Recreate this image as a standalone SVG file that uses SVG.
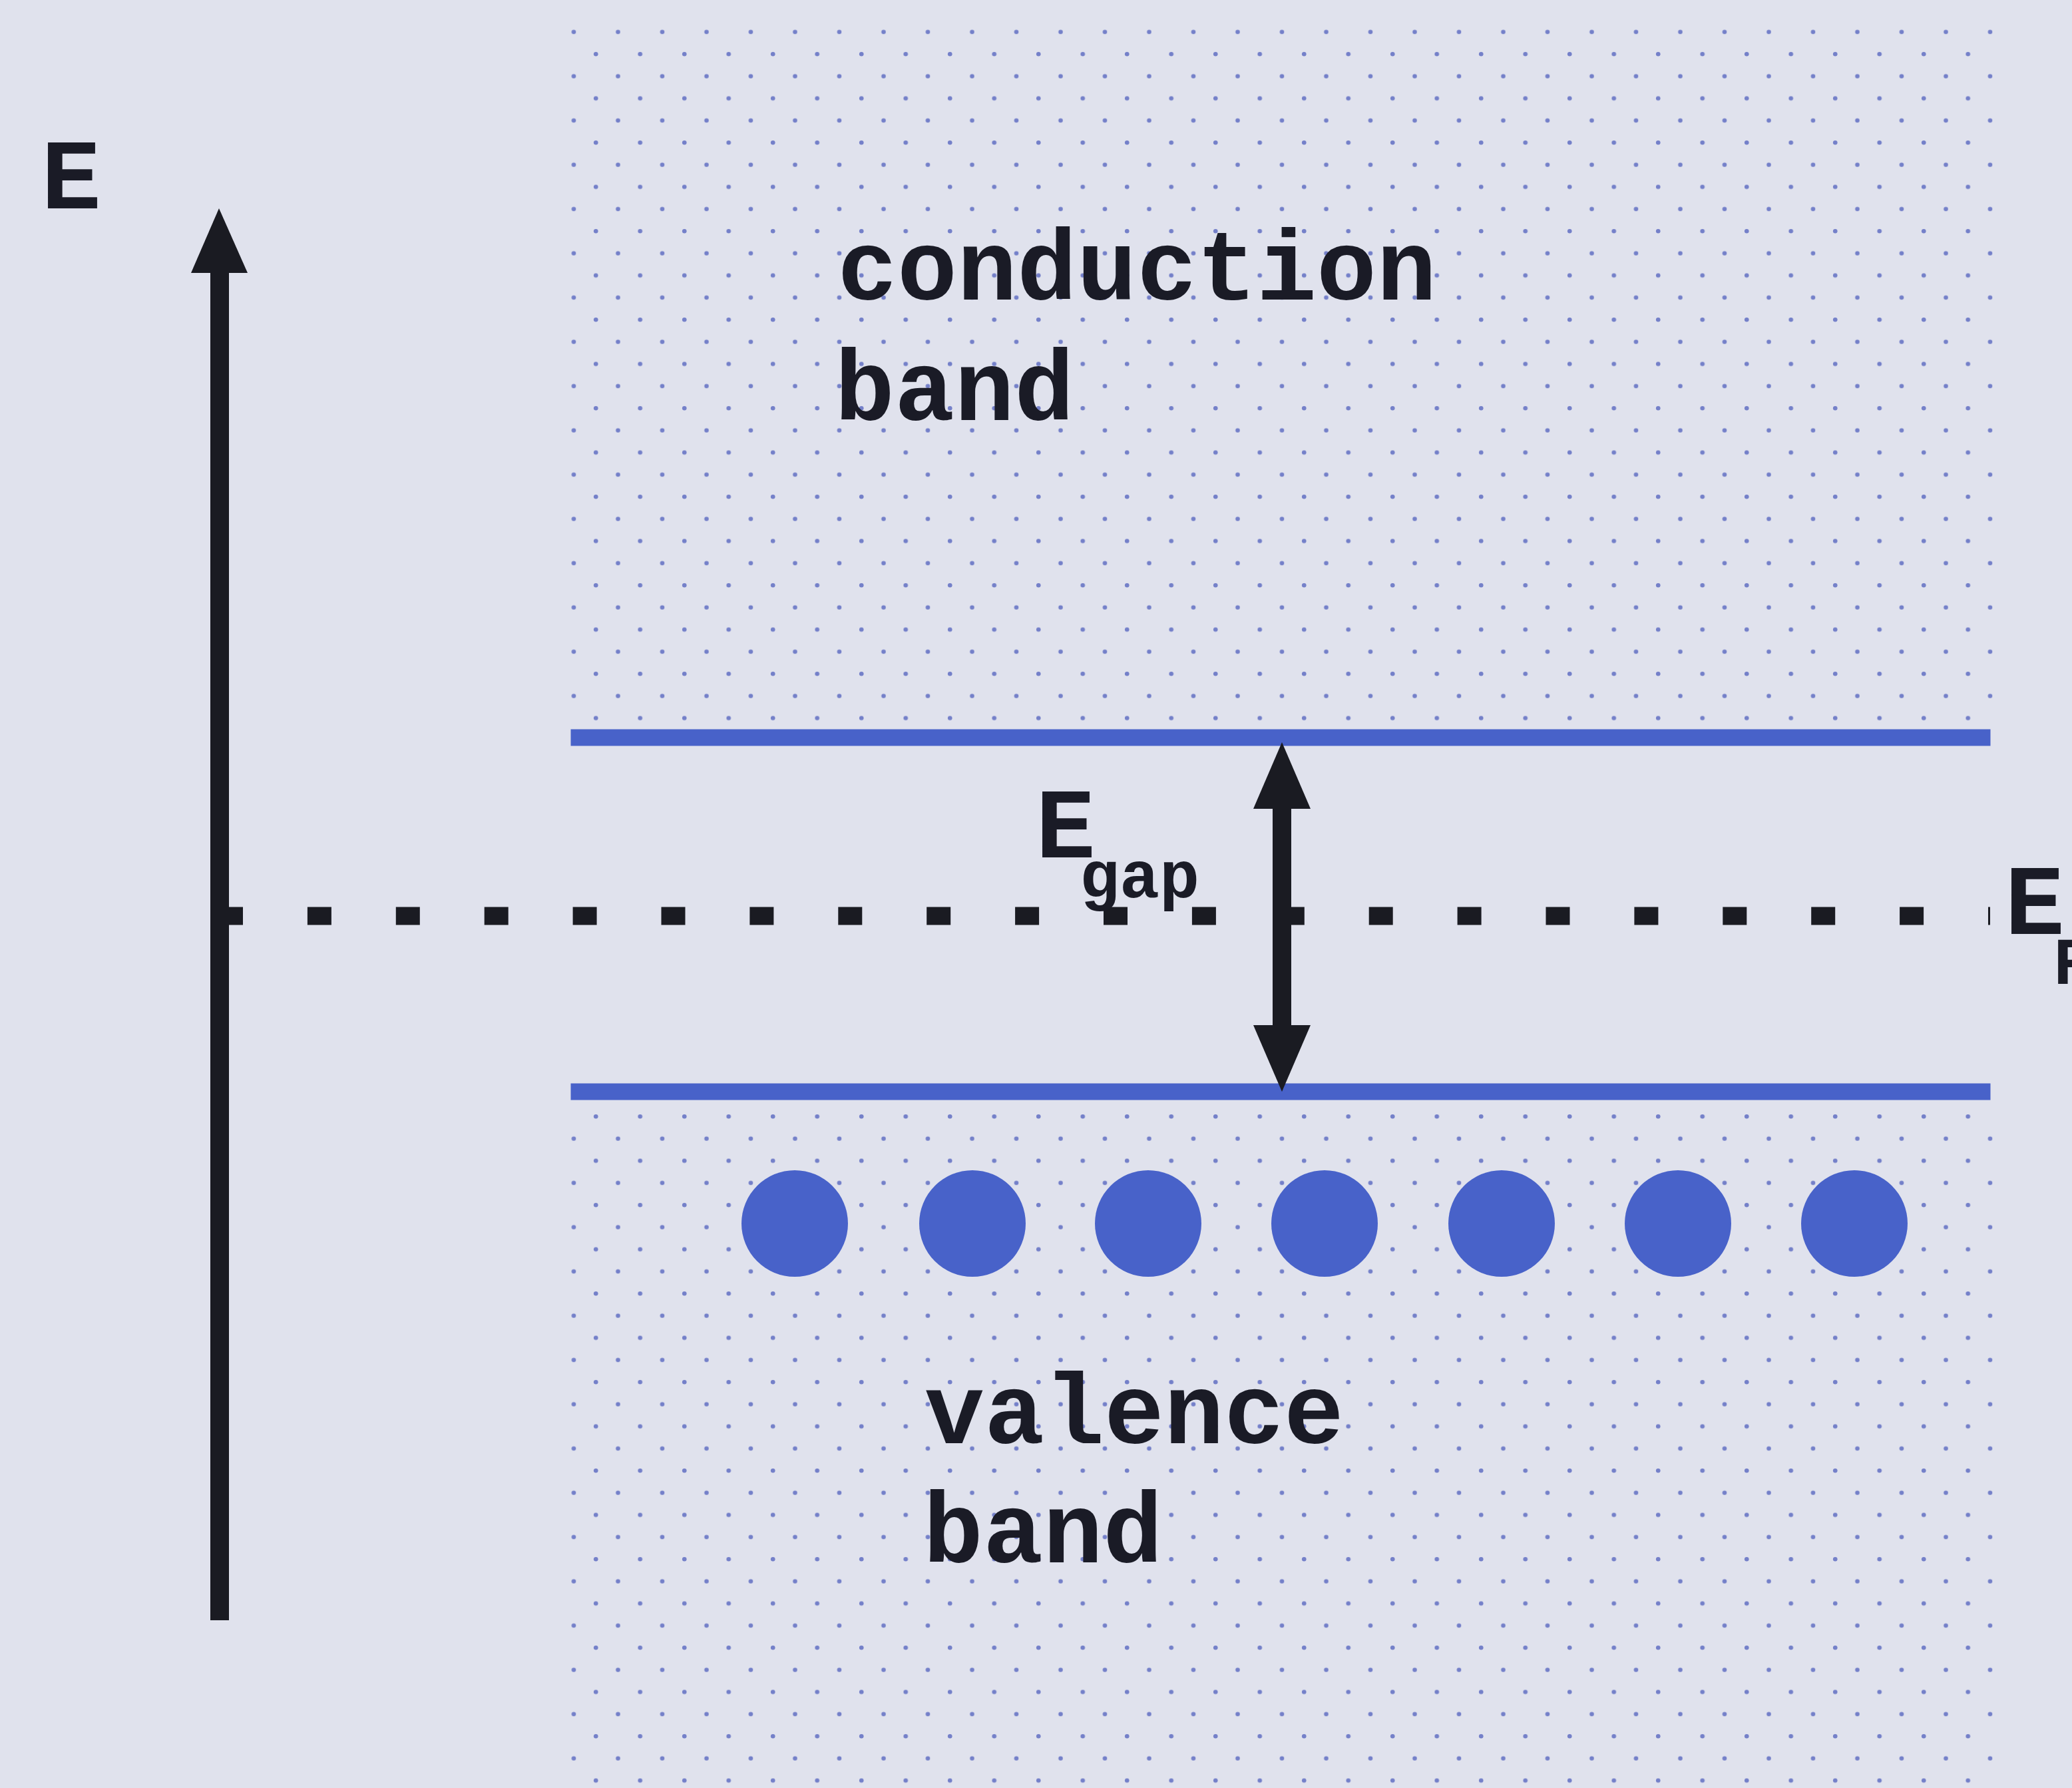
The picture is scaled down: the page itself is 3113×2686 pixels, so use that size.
<svg xmlns="http://www.w3.org/2000/svg" width="3113" height="2686" viewBox="0 0 3113 2686">
  <style>
    .lbl { font-family: "Liberation Mono", "Courier New", monospace; font-weight: bold; fill: #1a1b26; }
    .big { font-size: 150px; }
    .sub { font-size: 100px; }
    .edge { stroke: #4862c9; stroke-width: 25; stroke-linecap: square; fill: none; }
    .electron { fill: #4862c9; }
    .ink { fill: #1a1b22; }
  </style>
  <defs>
    <pattern id="dots" patternUnits="userSpaceOnUse" x="845.375" y="31.375" width="66.5" height="66.5">
      <circle cx="16.625" cy="16.625" r="3.3" fill="#7480c9"/>
      <circle cx="49.875" cy="49.875" r="3.3" fill="#7480c9"/>
    </pattern>
  </defs>
  <rect x="0" y="0" width="3113" height="2686" fill="#e0e2ed"/>

  <g id="conduction-band">
    <rect x="855" y="30" width="2141" height="1065" fill="url(#dots)"/>
    <line class="edge" x1="870" y1="1108" x2="2978" y2="1108"/>
    <text class="lbl big" x="1258" y="450">conduction</text>
    <text class="lbl big" x="1254" y="631">band</text>
  </g>

  <g id="valence-band">
    <rect x="855" y="1655" width="2141" height="1031" fill="url(#dots)"/>
    <line class="edge" x1="870" y1="1640" x2="2978" y2="1640"/>
    <circle class="electron" cx="1194" cy="1838" r="80"/>
    <circle class="electron" cx="1461" cy="1838" r="80"/>
    <circle class="electron" cx="1725" cy="1838" r="80"/>
    <circle class="electron" cx="1990" cy="1838" r="80"/>
    <circle class="electron" cx="2256" cy="1838" r="80"/>
    <circle class="electron" cx="2521" cy="1838" r="80"/>
    <circle class="electron" cx="2786" cy="1838" r="80"/>
    <text class="lbl big" x="1389" y="2168">valence</text>
    <text class="lbl big" x="1387" y="2347">band</text>
  </g>

  <g id="fermi-level">
    <line x1="329" y1="1376" x2="2990" y2="1376" stroke="#1a1b22" stroke-width="27" stroke-dasharray="36 96.9"/>
    <text class="lbl big" x="3012" y="1403">E</text>
    <text class="lbl sub" x="3084" y="1478">F</text>
  </g>

  <g id="connectors">
    <g id="energy-axis">
      <rect class="ink" x="316" y="400" width="28" height="2034"/>
      <polygon class="ink" points="329,313 287,410 372,410"/>
    </g>
    <g id="gap-arrow">
      <rect class="ink" x="1912" y="1205" width="28" height="345"/>
      <polygon class="ink" points="1926,1115 1883,1215 1969,1215"/>
      <polygon class="ink" points="1926,1640 1883,1540 1969,1540"/>
    </g>
  </g>

  <g id="axis-label">
    <text class="lbl big" x="62" y="313">E</text>
  </g>
  <g id="gap-label">
    <text class="lbl big" x="1556" y="1288">E</text>
    <text class="lbl sub" x="1622" y="1348">gap</text>
  </g>
</svg>
